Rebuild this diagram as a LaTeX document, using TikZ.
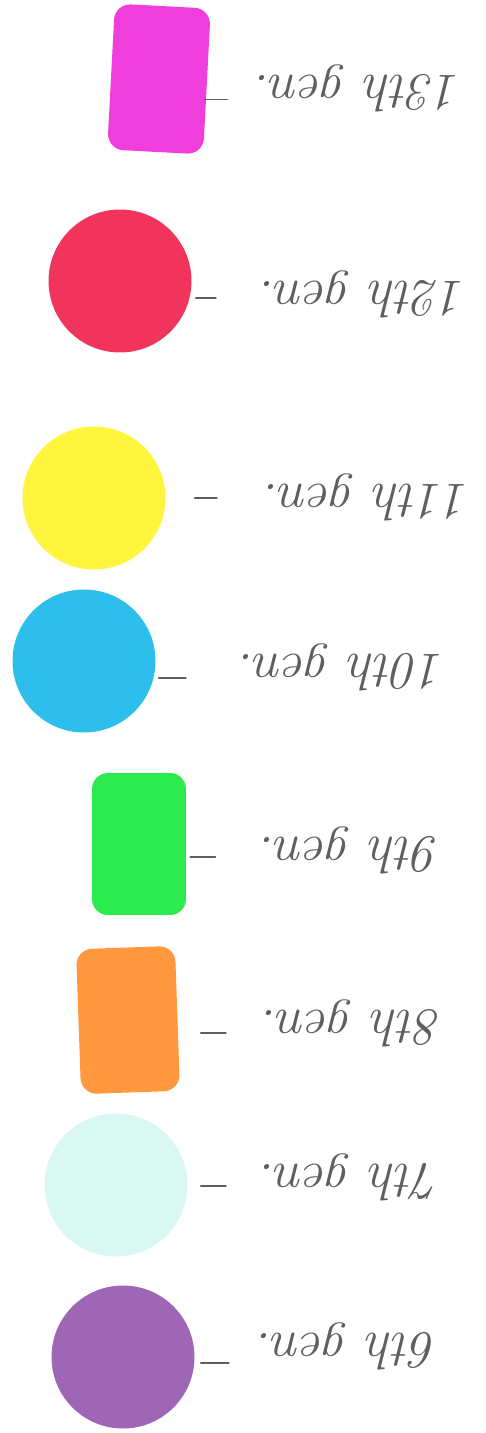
\documentclass[tikz,border=0pt]{standalone}
\usepackage{xcolor}
\usepackage{tikz}
\usetikzlibrary{shapes,positioning}

\definecolor{genMagenta}{RGB}{240,62,220}
\definecolor{genRed}{RGB}{240,52,92}
\definecolor{genYellow}{RGB}{255,244,62}
\definecolor{genBlue}{RGB}{46,190,236}
\definecolor{genGreen}{RGB}{42,234,78}
\definecolor{genOrange}{RGB}{255,152,62}
\definecolor{genMint}{RGB}{218,248,242}
\definecolor{genPurple}{RGB}{160,102,182}
\definecolor{pencil}{RGB}{95,95,95}

\begin{document}
\begin{tikzpicture}[
    x=0.02cm, y=-0.02cm,
    dot/.style={circle, minimum size=2.86cm, inner sep=0pt},
    card/.style={rectangle, rounded corners=0.32cm, inner sep=0pt},
    genlabel/.style={rotate=180, text=pencil, font=\fontsize{30}{36}\selectfont\itshape},
    tick/.style={pencil, line width=1pt, line cap=round}
]
    \useasboundingbox (0,0) rectangle (486,1433);

    % stickers, top to bottom
    \node[card, fill=genMagenta, minimum width=1.92cm, minimum height=2.92cm, rotate=-3] (card13) at (159,79) {};
    \node[dot, fill=genRed] (dot12) at (120,281) {};
    \node[dot, fill=genYellow] (dot11) at (94,498) {};
    \node[dot, fill=genBlue] (dot10) at (84,661) {};
    \node[card, fill=genGreen, minimum width=1.88cm, minimum height=2.84cm] (card9) at (139,844) {};
    \node[card, fill=genOrange, minimum width=1.98cm, minimum height=2.9cm, rotate=2] (card8) at (128,1020) {};
    \node[dot, fill=genMint] (dot7) at (116,1185) {};
    \node[dot, fill=genPurple] (dot6) at (123,1357) {};

    % labels (written upside down)
    \node[genlabel] (gen13) at (358,88) {13th gen.};
    \node[genlabel] (gen12) at (363,294) {12th gen.};
    \node[genlabel] (gen11) at (367,497) {11th gen.};
    \node[genlabel] (gen10) at (342,667) {10th gen.};
    \node[genlabel] (gen9) at (350,850) {9th gen.};
    \node[genlabel] (gen8) at (352,1023) {8th gen.};
    \node[genlabel] (gen7) at (350,1177) {7th gen.};
    \node[genlabel] (gen6) at (347,1346) {6th gen.};

    % dashes next to the stickers
    \draw[tick] ([shift={(-3,18)}]card13.east) -- ++(23,0);
    \draw[tick] ([shift={(4,17)}]dot12.east) -- ++(20,0);
    \draw[tick] ([shift={(29,0)}]dot11.east) -- ++(22,0);
    \draw[tick] ([shift={(3,17)}]dot10.east) -- ++(27,0);
    \draw[tick] ([shift={(4,13)}]card9.east) -- ++(25,0);
    \draw[tick] ([shift={(23,15)}]card8.east) -- ++(25,0);
    \draw[tick] ([shift={(13,1)}]dot7.east) -- ++(25,0);
    \draw[tick] ([shift={(6,6)}]dot6.east) -- ++(28,0);
\end{tikzpicture}
\end{document}
